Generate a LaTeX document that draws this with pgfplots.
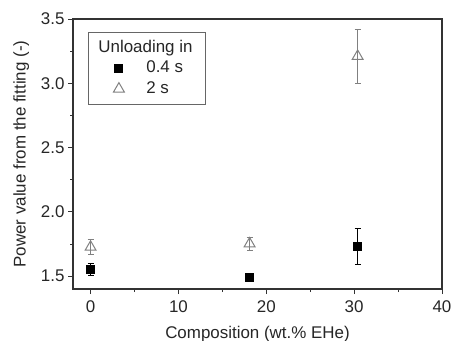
\documentclass[border=0pt]{standalone}
\usepackage{pgfplots}
\pgfplotsset{compat=1.18}
\usepackage{fontspec}
\setmainfont{Liberation Sans}
\pgfplotsset{mylegimg/.style={legend image code/.code={\path (0bp,0bp) (48bp,0bp); \draw[##1] plot coordinates {(21bp,0bp)};}}}
\begin{document}
\begin{tikzpicture}
\begin{axis}[
  scale only axis,
  width=369bp, height=270bp,
  xmin=-2, xmax=40, ymin=1.4, ymax=3.5,
  xtick={0,10,20,30,40}, ytick={1.5,2.0,2.5,3.0,3.5},
  minor xtick={5,15,25,35}, minor ytick={1.75,2.25,2.75,3.25},
  yticklabel style={/pgf/number format/.cd,fixed,fixed zerofill,precision=1},
  /pgf/number format/assume math mode=true,
  tick align=outside, xtick pos=bottom, ytick pos=left,
  major tick length=5bp, minor tick length=3bp,
  axis line style={line width=1.2pt, black!80},
  tick style={line width=0.9pt, black!80},
  every tick label/.append style={font=\fontsize{17}{20}\selectfont, text=black!85},
  xticklabel style={yshift=-3bp},
  xlabel={Composition (wt.\% EHe)},
  ylabel={Power value from the fitting (-)},
  label style={font=\fontsize{17}{20}\selectfont, text=black!85},
  ylabel style={yshift=5bp},
  xlabel style={yshift=-7bp},
  legend style={at={(0.0407,0.9519)}, anchor=north west, draw=black!60, line width=0.9pt,
    font=\fontsize{17}{20}\selectfont, text=black!85, inner xsep=9bp, inner ysep=5.5bp, row sep=0.5bp,
    nodes={inner xsep=0bp, inner ysep=2bp, text height=12.5bp, text depth=3.5bp}},
  legend cell align=left,
]
\addlegendimage{empty legend}
\addlegendentry{\hspace*{-48bp}Unloading in\hspace*{4bp}}
\addplot[only marks, mark=square*, mark size=4bp, black, mylegimg,
  error bars/.cd, y dir=both, y explicit, error bar style={line width=0.8pt}, error mark options={rotate=90, mark size=3bp, black}]
  coordinates {
  (0,1.555) +- (0,0.045)
  (18.1,1.494) +- (0,0.0)
  (30.4,1.73) +- (0,0.14)
};
\addlegendentry{0.4 s}
\addplot[only marks, mark=triangle, mark size=6.3bp, black!50, mark options={line width=1pt}, mylegimg,
  error bars/.cd, y dir=both, y explicit, error bar style={black!50, line width=0.8pt}, error mark options={rotate=90, mark size=3bp, black!50}]
  coordinates {
  (0,1.726) +- (0,0.058)
  (18.1,1.752) +- (0,0.05)
  (30.4,3.21) +- (0,0.21)
};
\addlegendentry{2 s}
\end{axis}
\pgfresetboundingbox
\path[use as bounding box] ([shift={(-73bp,-52bp)}]current axis.south west) rectangle ++(451bp,341bp);
\end{tikzpicture}
\end{document}
